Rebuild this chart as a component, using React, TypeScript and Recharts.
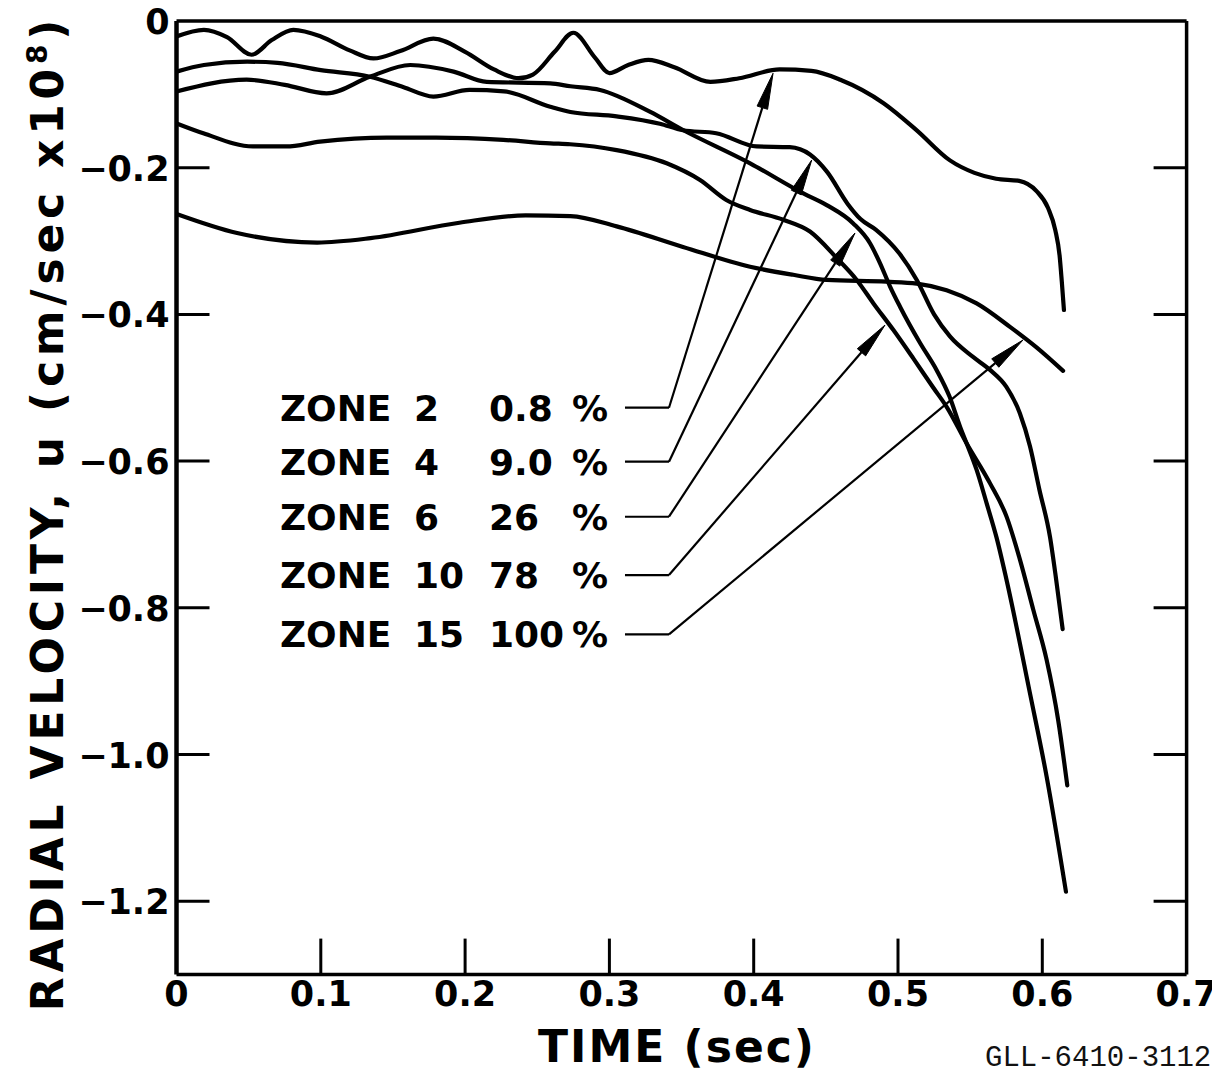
import React from 'react';
import { LineChart, Line, XAxis, YAxis, ReferenceLine } from 'recharts';

// ---- axis ticks ----
const xTicks = [0, 0.1, 0.2, 0.3, 0.4, 0.5, 0.6, 0.7];
const xTickLabels = ['0', '0.1', '0.2', '0.3', '0.4', '0.5', '0.6', '0.7'];
const yTicks = [0, -0.2, -0.4, -0.6, -0.8, -1.0, -1.2];
const yTickLabels = ['0', '\u22120.2', '\u22120.4', '\u22120.6', '\u22120.8', '\u22121.0', '\u22121.2'];

// ---- series (t in sec, v in cm/sec x 10^8) ----
const zone2 = [
  { t: 0, v: -0.021 }, { t: 0.019, v: -0.012 }, { t: 0.035, v: -0.022 }, { t: 0.052, v: -0.046 },
  { t: 0.066, v: -0.026 }, { t: 0.081, v: -0.012 }, { t: 0.1, v: -0.021 }, { t: 0.12, v: -0.04 },
  { t: 0.1365, v: -0.051 }, { t: 0.155, v: -0.041 }, { t: 0.178, v: -0.024 }, { t: 0.2, v: -0.042 },
  { t: 0.22, v: -0.066 }, { t: 0.237, v: -0.078 }, { t: 0.247, v: -0.073 }, { t: 0.262, v: -0.042 },
  { t: 0.275, v: -0.016 }, { t: 0.29, v: -0.05 }, { t: 0.3, v: -0.071 }, { t: 0.313, v: -0.06 },
  { t: 0.327, v: -0.053 }, { t: 0.345, v: -0.063 }, { t: 0.37, v: -0.083 }, { t: 0.39, v: -0.078 },
  { t: 0.418, v: -0.066 }, { t: 0.44, v: -0.068 }, { t: 0.46, v: -0.08 }, { t: 0.49, v: -0.112 },
  { t: 0.513, v: -0.149 }, { t: 0.536, v: -0.19 }, { t: 0.553, v: -0.207 }, { t: 0.568, v: -0.215 },
  { t: 0.584, v: -0.218 }, { t: 0.596, v: -0.232 }, { t: 0.604, v: -0.255 }, { t: 0.609, v: -0.285 },
  { t: 0.612, v: -0.32 }, { t: 0.6135, v: -0.355 }, { t: 0.615, v: -0.394 },
];

const zone4 = [
  { t: 0, v: -0.069 }, { t: 0.019, v: -0.06 }, { t: 0.049, v: -0.0555 }, { t: 0.07, v: -0.057 },
  { t: 0.1, v: -0.067 }, { t: 0.134, v: -0.076 }, { t: 0.157, v: -0.09 }, { t: 0.178, v: -0.103 },
  { t: 0.203, v: -0.094 }, { t: 0.227, v: -0.096 }, { t: 0.259, v: -0.117 }, { t: 0.273, v: -0.124 },
  { t: 0.305, v: -0.13 }, { t: 0.335, v: -0.14 }, { t: 0.351, v: -0.149 }, { t: 0.374, v: -0.153 },
  { t: 0.402, v: -0.171 }, { t: 0.425, v: -0.172 }, { t: 0.439, v: -0.182 }, { t: 0.451, v: -0.206 },
  { t: 0.465, v: -0.249 }, { t: 0.474, v: -0.27 }, { t: 0.485, v: -0.285 }, { t: 0.501, v: -0.317 },
  { t: 0.513, v: -0.353 }, { t: 0.525, v: -0.4 }, { t: 0.536, v: -0.43 }, { t: 0.552, v: -0.458 },
  { t: 0.564, v: -0.476 }, { t: 0.575, v: -0.4985 }, { t: 0.5845, v: -0.535 }, { t: 0.5915, v: -0.58 },
  { t: 0.598, v: -0.639 }, { t: 0.6053, v: -0.703 }, { t: 0.6095, v: -0.76 }, { t: 0.6141, v: -0.829 },
];

const zone6 = [
  { t: 0, v: -0.096 }, { t: 0.0486, v: -0.08 }, { t: 0.075, v: -0.087 }, { t: 0.104, v: -0.0986 },
  { t: 0.134, v: -0.076 }, { t: 0.162, v: -0.06 }, { t: 0.192, v: -0.069 }, { t: 0.215, v: -0.083 },
  { t: 0.259, v: -0.085 }, { t: 0.273, v: -0.089 }, { t: 0.2935, v: -0.094 }, { t: 0.328, v: -0.1236 },
  { t: 0.351, v: -0.1486 }, { t: 0.3975, v: -0.194 }, { t: 0.4344, v: -0.235 }, { t: 0.4506, v: -0.251 },
  { t: 0.469, v: -0.276 }, { t: 0.4806, v: -0.303 }, { t: 0.4875, v: -0.33 }, { t: 0.4945, v: -0.362 },
  { t: 0.5014, v: -0.3895 }, { t: 0.5153, v: -0.439 }, { t: 0.5268, v: -0.476 }, { t: 0.5357, v: -0.512 },
  { t: 0.543, v: -0.553 }, { t: 0.5476, v: -0.576 }, { t: 0.5545, v: -0.612 }, { t: 0.5615, v: -0.658 },
  { t: 0.5684, v: -0.705 }, { t: 0.575, v: -0.76 }, { t: 0.5915, v: -0.917 }, { t: 0.603, v: -1.03 },
  { t: 0.6164, v: -1.187 },
];

const zone10 = [
  { t: 0, v: -0.1395 }, { t: 0.0186, v: -0.153 }, { t: 0.053, v: -0.171 }, { t: 0.076, v: -0.171 },
  { t: 0.0995, v: -0.1645 }, { t: 0.1457, v: -0.159 }, { t: 0.18, v: -0.159 }, { t: 0.2265, v: -0.162 },
  { t: 0.259, v: -0.1668 }, { t: 0.2727, v: -0.168 }, { t: 0.305, v: -0.176 }, { t: 0.3397, v: -0.194 },
  { t: 0.3628, v: -0.2168 }, { t: 0.381, v: -0.244 }, { t: 0.3975, v: -0.2577 }, { t: 0.4205, v: -0.271 },
  { t: 0.439, v: -0.287 }, { t: 0.4575, v: -0.323 }, { t: 0.4714, v: -0.353 }, { t: 0.483, v: -0.385 },
  { t: 0.4967, v: -0.421 }, { t: 0.5106, v: -0.46 }, { t: 0.5245, v: -0.5 }, { t: 0.5337, v: -0.526 },
  { t: 0.5476, v: -0.576 }, { t: 0.5637, v: -0.63 }, { t: 0.5753, v: -0.676 }, { t: 0.5846, v: -0.735 },
  { t: 0.5938, v: -0.803 }, { t: 0.603, v: -0.871 }, { t: 0.611, v: -0.953 }, { t: 0.6173, v: -1.042 },
];

const zone15 = [
  { t: 0, v: -0.263 }, { t: 0.042, v: -0.289 }, { t: 0.0975, v: -0.302 }, { t: 0.1345, v: -0.296 },
  { t: 0.196, v: -0.275 }, { t: 0.242, v: -0.265 }, { t: 0.273, v: -0.266 }, { t: 0.305, v: -0.28 },
  { t: 0.351, v: -0.308 }, { t: 0.3975, v: -0.335 }, { t: 0.4274, v: -0.346 }, { t: 0.4506, v: -0.353 },
  { t: 0.492, v: -0.3554 }, { t: 0.513, v: -0.358 }, { t: 0.5337, v: -0.367 }, { t: 0.5545, v: -0.385 },
  { t: 0.5776, v: -0.417 }, { t: 0.596, v: -0.445 }, { t: 0.6144, v: -0.477 },
];

const seriesList = [zone2, zone4, zone6, zone10, zone15];

// ---- legend / leader annotations ----
const zoneNumbers = ['2', '4', '6', '10', '15'];
const zonePercents = ['0.8', '9.0', '26', '78', '100'];
const legendV = [-0.5272, -0.6008, -0.6758, -0.7553, -0.8361];
const arrowTipT = [0.4134, 0.4402, 0.4702, 0.491, 0.5866];
const arrowTipV = [-0.0713, -0.1895, -0.289, -0.4145, -0.4349];
const leaderStartT = 0.3108;
const leaderKneeT = 0.3413;

// ---- layout ----
const W = 1212;
const H = 1067;
const X_TICK_LEN = 36;
const Y_TICK_LEN = 33;
const BORDER = '#000';

const tickFont = {
  fontFamily: '"DejaVu Sans", sans-serif',
  fontWeight: 700,
  fontSize: 35,
  fill: '#000',
};

const labelFont = {
  fontFamily: '"DejaVu Sans", sans-serif',
  fontWeight: 700,
  fontSize: 36,
  fill: '#000',
};

const idxOf = (arr: number[], v: number) => arr.findIndex((a) => Math.abs(a - v) < 1e-9);

function BottomTick(props: any) {
  const { x, y, payload } = props;
  const i = idxOf(xTicks, payload.value);
  const inner = payload.value > 1e-9 && payload.value < 0.7 - 1e-9;
  return (
    <g>
      {inner && <line x1={x} x2={x} y1={y} y2={y - X_TICK_LEN} stroke={BORDER} strokeWidth={3} />}
      <text x={x} y={y + 31} textAnchor="middle" {...tickFont}>
        {xTickLabels[i]}
      </text>
    </g>
  );
}

function TopTick(props: any) {
  const { x, y, payload } = props;
  const inner = payload.value > 1e-9 && payload.value < 0.7 - 1e-9;
  if (!inner) return <g />;
  return <line x1={x} x2={x} y1={y} y2={y + X_TICK_LEN} stroke={BORDER} strokeWidth={3} />;
}

function LeftTick(props: any) {
  const { x, y, payload } = props;
  const i = idxOf(yTicks, payload.value);
  const inner = payload.value < -1e-9;
  return (
    <g>
      {inner && <line x1={x} x2={x + Y_TICK_LEN} y1={y} y2={y} stroke={BORDER} strokeWidth={3} />}
      <text x={x - 7} y={y + 13} textAnchor="end" {...tickFont}>
        {yTickLabels[i]}
      </text>
    </g>
  );
}

function RightTick(props: any) {
  const { x, y, payload } = props;
  const inner = payload.value < -1e-9;
  if (!inner) return <g />;
  return <line x1={x - Y_TICK_LEN} x2={x} y1={y} y2={y} stroke={BORDER} strokeWidth={3} />;
}

function LegendLeader(props: any) {
  const { x1, y1, x2, y2, idx } = props;
  return (
    <g>
      <line x1={x1} y1={y1} x2={x2} y2={y2} stroke="#000" strokeWidth={2.2} />
      <text x={x1 - 345} y={y1 + 13} {...labelFont}>ZONE</text>
      <text x={x1 - 211} y={y1 + 13} {...labelFont}>{zoneNumbers[idx]}</text>
      <text x={x1 - 136} y={y1 + 13} {...labelFont}>{zonePercents[idx]}</text>
      <text x={x1 - 53} y={y1 + 13} {...labelFont}>%</text>
    </g>
  );
}

function ArrowShape(props: any) {
  const { x1, y1, x2, y2 } = props;
  const dx = x2 - x1;
  const dy = y2 - y1;
  const len = Math.hypot(dx, dy) || 1;
  const ux = dx / len;
  const uy = dy / len;
  const L = 36;
  const Wd = 5.5;
  const bx = x2 - ux * L;
  const by = y2 - uy * L;
  const px = -uy * Wd;
  const py = ux * Wd;
  return (
    <g>
      <line x1={x1} y1={y1} x2={bx} y2={by} stroke="#000" strokeWidth={2.2} />
      <polygon
        points={`${x2},${y2} ${bx + px},${by + py} ${bx - px},${by - py}`}
        fill="#000"
        stroke="#000"
        strokeWidth={1}
        strokeLinejoin="round"
      />
    </g>
  );
}

export default function App() {
  return (
    <div style={{ position: 'relative', width: W, height: H, background: '#fff' }}>
      <style>{'svg.recharts-surface { overflow: visible; }'}</style>
      <LineChart width={W} height={H} margin={{ top: 3, right: 13.4, bottom: 40.4, left: 68.5 }}>
        <XAxis
          dataKey="t"
          type="number"
          domain={[0, 0.7]}
          ticks={xTicks}
          interval={0}
          allowDataOverflow
          height={60}
          tickSize={0}
          tickMargin={0}
          tickLine={false}
          axisLine={{ stroke: BORDER, strokeWidth: 3.5 }}
          tick={<BottomTick />}
        />
        <XAxis
          xAxisId="top"
          orientation="top"
          type="number"
          domain={[0, 0.7]}
          ticks={xTicks}
          interval={0}
          allowDataOverflow
          height={10}
          tickSize={0}
          tickMargin={0}
          tickLine={false}
          axisLine={{ stroke: BORDER, strokeWidth: 3.5 }}
          tick={<TopTick />}
        />
        <YAxis
          type="number"
          domain={[-1.3, 0]}
          ticks={yTicks}
          interval={0}
          allowDataOverflow
          width={100}
          tickSize={0}
          tickMargin={0}
          tickLine={false}
          axisLine={{ stroke: BORDER, strokeWidth: 4.5 }}
          tick={<LeftTick />}
        />
        <YAxis
          yAxisId="right"
          orientation="right"
          type="number"
          domain={[-1.3, 0]}
          ticks={yTicks}
          interval={0}
          allowDataOverflow
          width={20}
          tickSize={0}
          tickMargin={0}
          tickLine={false}
          axisLine={{ stroke: BORDER, strokeWidth: 3.5 }}
          tick={<RightTick />}
        />
        {seriesList.map((d, i) => (
          <Line
            key={`s${i}`}
            data={d}
            dataKey="v"
            type="monotone"
            stroke="#000"
            strokeWidth={4.2}
            strokeLinecap="round"
            strokeLinejoin="round"
            dot={false}
            activeDot={false}
            isAnimationActive={false}
          />
        ))}
        {legendV.map((v, i) => (
          <ReferenceLine
            key={`lh${i}`}
            segment={[
              { x: leaderStartT, y: v },
              { x: leaderKneeT, y: v },
            ]}
            stroke="#000"
            shape={(p: any) => <LegendLeader {...p} idx={i} />}
          />
        ))}
        {legendV.map((v, i) => (
          <ReferenceLine
            key={`la${i}`}
            segment={[
              { x: leaderKneeT, y: v },
              { x: arrowTipT[i], y: arrowTipV[i] },
            ]}
            stroke="#000"
            shape={(p: any) => <ArrowShape {...p} />}
          />
        ))}
      </LineChart>
      <svg
        width={W}
        height={H}
        style={{ position: 'absolute', left: 0, top: 0, pointerEvents: 'none' }}
      >
        <text
          transform="translate(55,505) rotate(-90)"
          textAnchor="middle"
          fontFamily='"DejaVu Sans", sans-serif'
          fontWeight={700}
          fontSize={44}
          letterSpacing={4.8}
          fill="#000"
        >
          RADIAL VELOCITY, u (cm/sec x10
          <tspan dy={-16} fontSize={28}>8</tspan>
          <tspan dy={16}>)</tspan>
        </text>
        <text
          x={669}
          y={1054}
          textAnchor="middle"
          fontFamily='"DejaVu Sans", sans-serif'
          fontWeight={700}
          fontSize={44}
          letterSpacing={2}
          fill="#000"
        >
          TIME (sec)
        </text>
        <text
          x={977}
          y={1058}
          fontFamily='"Liberation Mono", monospace'
          fontSize={29}
          fill="#111"
        >
          GLL-6410-3112
        </text>
      </svg>
    </div>
  );
}
